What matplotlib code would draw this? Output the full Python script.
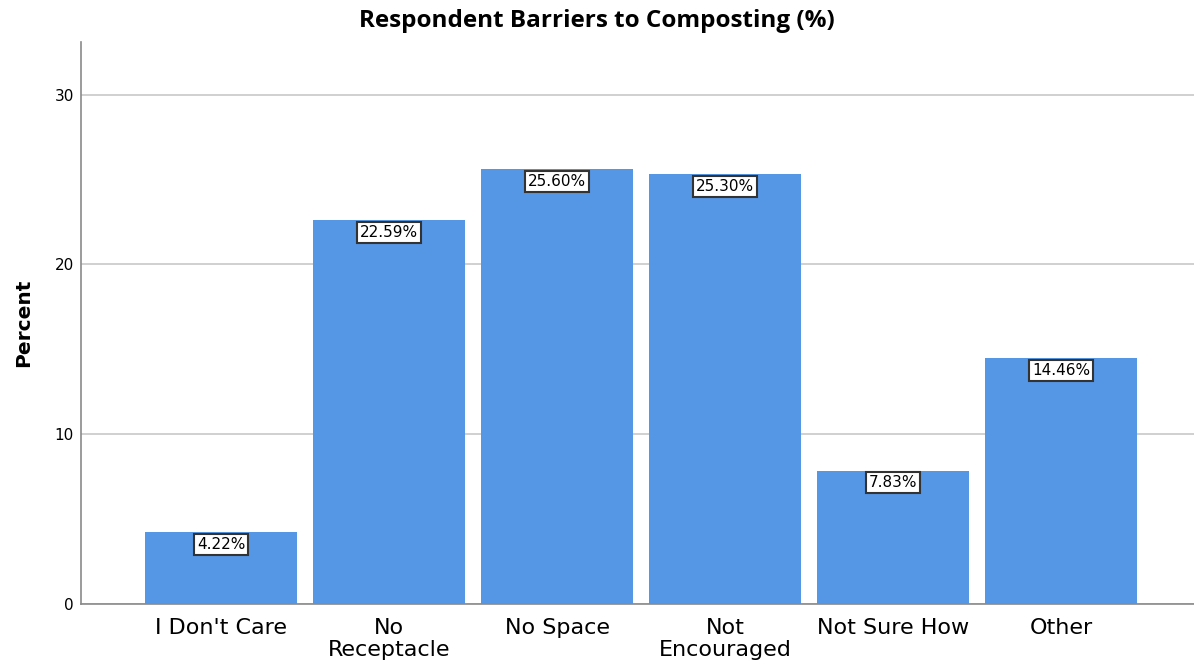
import numpy as np
import matplotlib.pyplot as plt

categories = ["I Don't Care", "No\nReceptacle", "No Space", "Not\nEncouraged", "Not Sure How", "Other"]
percent = [4.22, 22.59, 25.60, 25.30, 7.83, 14.46]
yticks = [0, 10, 20, 30]

fig = plt.figure(figsize=(11.94, 6.63), dpi=100)
ax = fig.add_axes([0.0678, 0.089, 0.9322, 0.8477])

x = np.arange(len(categories))
ax.bar(x, percent, width=0.905, color="#5596e5", zorder=2)

# value boxes sit just under each bar's top
for xi, v in zip(x, percent):
    ax.annotate(f"{v:.2f}%", (xi, v), xytext=(0, -8.5), textcoords="offset points",
                ha="center", va="center", fontsize=11, color="black",
                bbox=dict(boxstyle="square,pad=0.2", fc="white", ec="#333333", lw=1.5),
                zorder=3)

ax.set_xlim(-0.833, 5.79)
ax.set_ylim(0, 33.1)
ax.set_xticks(x)
ax.set_xticklabels(categories, fontsize=16, linespacing=1.15)
ax.set_yticks(yticks)
ax.tick_params(axis="y", length=0, labelsize=11, pad=5)
ax.tick_params(axis="x", length=0, pad=10)
ax.grid(axis="y", color="#c8c8c8", lw=1.2, zorder=0)

for side in ["top", "right"]:
    ax.spines[side].set_visible(False)
ax.spines["left"].set_color("#8a8a8a")
ax.spines["bottom"].set_color("#8a8a8a")
ax.spines["left"].set_linewidth(1.2)
ax.spines["bottom"].set_linewidth(1.2)

ax.set_ylabel("Percent", fontsize=14.5, fontweight="bold", labelpad=15.5)
fig.text(0.5, 0.969, "Respondent Barriers to Composting (%)", ha="center", va="center",
         fontsize=17.5, fontweight="bold", family="Open Sans")

fig.savefig("out.png", dpi=100)
